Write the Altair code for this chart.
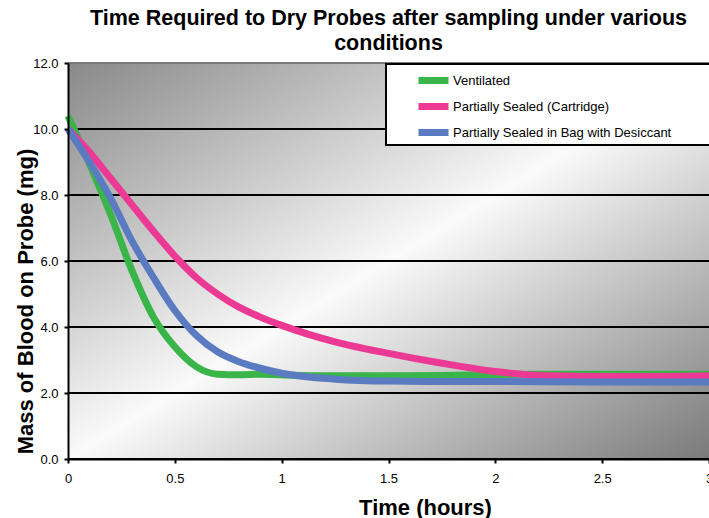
import altair as alt
import pandas as pd

# ---- data ----
time_h = [0, 0.1, 0.2, 0.3, 0.4, 0.5, 0.6, 0.7, 0.8, 0.9, 1.0, 1.25, 1.5, 1.75, 2.0, 2.25, 2.5, 2.75, 3.0]
ventilated = [10.4, 8.95, 7.4, 5.7, 4.3, 3.4, 2.8, 2.57, 2.55, 2.57, 2.55, 2.52, 2.52, 2.53, 2.56, 2.57, 2.57, 2.57, 2.57]
cartridge = [10.0, 9.3, 8.5, 7.7, 6.9, 6.15, 5.5, 5.0, 4.6, 4.3, 4.05, 3.55, 3.2, 2.9, 2.65, 2.52, 2.5, 2.5, 2.52]
desiccant = [10.0, 9.0, 7.9, 6.6, 5.5, 4.5, 3.75, 3.25, 2.95, 2.75, 2.6, 2.42, 2.36, 2.35, 2.35, 2.34, 2.33, 2.33, 2.33]
series_names = ["Ventilated", "Partially Sealed (Cartridge)", "Partially Sealed in Bag with Desiccant"]
series_colors = ["#3ab54a", "#ec3994", "#5a7bc2"]
x_ticks = [0, 0.5, 1, 1.5, 2, 2.5, 3]
y_ticks = [0, 2, 4, 6, 8, 10, 12]
title_lines = ["Time Required to Dry Probes after sampling under various", "conditions"]

rows = []
for name, vals in zip(series_names, [ventilated, cartridge, desiccant]):
    for t, v in zip(time_h, vals):
        rows.append({"t": t, "v": v, "s": name})
df = pd.DataFrame(rows)
grid_df = pd.DataFrame({"g": y_ticks})

W, H = 641, 396
FONT = "Liberation Sans"

xscale = alt.Scale(domain=[0, 3], nice=False, zero=False)
yscale = alt.Scale(domain=[0, 12], nice=False)

x_axis = alt.Axis(values=x_ticks, format="~g", grid=False, zindex=1,
                  domainColor="black", domainWidth=2,
                  tickColor="black", tickWidth=2, tickSize=4,
                  labelFont=FONT, labelFontSize=13, labelColor="black",
                  labelPadding=9, labelFlush=False, labelOverlap=False,
                  title="Time (hours)", titleFont=FONT, titleFontSize=22,
                  titleFontWeight="bold", titleColor="black",
                  titleX=357, titleY=55, titleBaseline="alphabetic",
                  titleAlign="center")
y_axis = alt.Axis(values=y_ticks, format=".1f", grid=False, zindex=1,
                  domainColor="black", domainWidth=2,
                  tickColor="black", tickWidth=2, tickSize=4,
                  labelFont=FONT, labelFontSize=13, labelColor="black",
                  labelPadding=6,
                  title="Mass of Blood on Probe (mg)", titleFont=FONT,
                  titleFontSize=22, titleFontWeight="bold", titleColor="black",
                  titleX=-43, titleY=238, titleAngle=270,
                  titleBaseline="middle", titleAlign="center")

bg = alt.Chart(alt.Data(values=[{}])).mark_rect(
    fill=alt.Gradient(
        gradient="linear",
        stops=[alt.GradientStop(color="#898989", offset=0),
               alt.GradientStop(color="#fafafa", offset=0.5),
               alt.GradientStop(color="#7a7a7a", offset=1)],
        x1=0, y1=0, x2=1, y2=1),
).encode(x=alt.value(0), x2=alt.value(W), y=alt.value(0), y2=alt.value(H))

grid = alt.Chart(grid_df).mark_rule(strokeWidth=2).encode(
    y=alt.Y("g:Q", scale=yscale, axis=y_axis),
    color=alt.condition("datum.g == 12", alt.value("#7a7a7a"), alt.value("black")),
)

legend_box = alt.Chart(alt.Data(values=[{}])).mark_rect(
    fill="white", stroke="black", strokeWidth=2
).encode(x=alt.value(318), x2=alt.value(700), y=alt.value(1), y2=alt.value(82))

lines = alt.Chart(df).mark_line(strokeWidth=7, interpolate="monotone").encode(
    x=alt.X("t:Q", scale=xscale, axis=x_axis),
    y=alt.Y("v:Q", scale=yscale, axis=y_axis),
    color=alt.Color("s:N", sort=series_names,
                    scale=alt.Scale(domain=series_names, range=series_colors),
                    legend=alt.Legend(title=None, orient="none", legendX=357, legendY=9,
                                      symbolType="M-3,0L3,0", symbolSize=100,
                                      symbolStrokeWidth=7, symbolOffset=0,
                                      labelFont=FONT, labelFontSize=13,
                                      labelColor="black", labelLimit=400,
                                      labelOffset=11, padding=0, rowPadding=-3)),
)

chart = alt.layer(bg, grid, legend_box, lines).properties(
    width=W, height=H,
    title=alt.Title(title_lines, font=FONT, fontSize=21.5, fontWeight="bold",
                    color="black", anchor="middle", offset=3, lineHeight=25),
    padding={"left": 68, "top": 63, "right": 0, "bottom": 59},
    autosize=alt.AutoSizeParams(type="none"),
).configure_view(stroke=None).configure(font=FONT, background="white")

chart.save("out.html", embed_options={"renderer": "svg", "actions": False})
